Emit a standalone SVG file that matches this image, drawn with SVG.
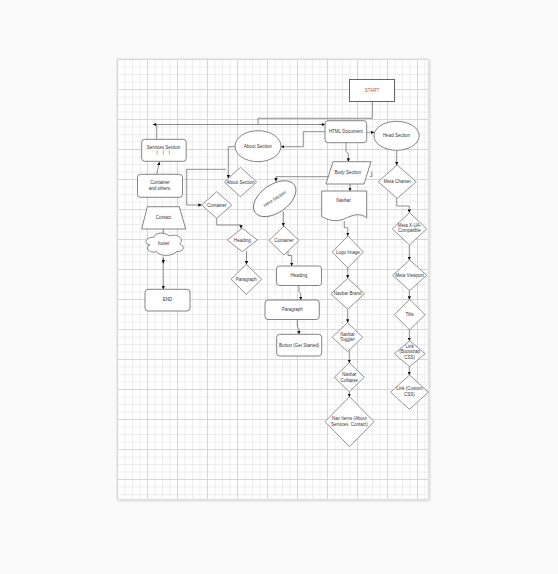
<svg xmlns="http://www.w3.org/2000/svg" width="558" height="574" viewBox="0 0 558 574">
<defs>
<pattern id="grid" patternUnits="userSpaceOnUse" x="117" y="59" width="30" height="30">
<path d="M8,0V30M15.5,0V30M23,0V30M0,8H30M0,15.5H30M0,23H30" stroke="#ededed" stroke-width="1" fill="none"/>
<path d="M0.5,0V30M0,0.5H30" stroke="#d6d6d6" stroke-width="1" fill="none"/>
</pattern>
<filter id="shadow" x="-5%" y="-5%" width="110%" height="110%">
<feGaussianBlur in="SourceAlpha" stdDeviation="1.5"/>
<feOffset dx="1" dy="1"/>
<feComponentTransfer><feFuncA type="linear" slope="0.25"/></feComponentTransfer>
<feMerge><feMergeNode/><feMergeNode in="SourceGraphic"/></feMerge>
</filter>
<marker id="arr" viewBox="0 0 6 6" refX="6" refY="3" markerWidth="3.4" markerHeight="3.4" markerUnits="userSpaceOnUse" orient="auto">
<path d="M0,0L6,3L0,6Z" fill="#111"/>
</marker>
</defs>
<style>
.s{fill:#fff;stroke:#666;stroke-width:0.8}
.d{fill:#fff;stroke:#777;stroke-width:0.8}
.t{font-family:"Liberation Sans",Arial,sans-serif;font-size:4.5px;fill:#333;text-anchor:middle}
.c{fill:none;stroke:#444;stroke-width:0.6}
.g{fill:none;stroke:#999;stroke-width:1.1}
</style>
<rect x="0" y="0" width="558" height="574" fill="#fafafa"/>
<rect x="117" y="59" width="311" height="440" fill="#fff" stroke="#e2e2e2" stroke-width="0.6" filter="url(#shadow)"/>
<rect x="117" y="59" width="311" height="440" fill="url(#grid)"/>

<g id="connectors">
<path class="c" d="M372.3,101.7V118.3H258V124.5"/>
<path class="c" d="M325,124.5H152.8" marker-end="url(#arr)"/>
<path class="c" d="M319,124.5H325" marker-end="url(#arr)"/>
<path class="c" d="M156.7,139.3V124.5"/>
<path class="c" d="M325,131.7H303.3V146.7H280.9" marker-end="url(#arr)"/>
<path class="c" d="M235,146.7H228.3V178.4" marker-end="url(#arr)"/>
<path class="c" d="M226,169.3H186.7V205H201.7" marker-end="url(#arr)"/>
<path class="c" d="M216.7,218.3V225H241V228.6" marker-end="url(#arr)"/>
<path class="c" d="M246.5,251V264.5" marker-end="url(#arr)"/>
<path class="c" d="M330,176.7H276V181.5" marker-end="url(#arr)"/>
<path class="c" d="M283.3,211.5V226.3" marker-end="url(#arr)"/>
<path class="c" d="M288,251.3V255.5H291.7V266" marker-end="url(#arr)"/>
<path class="c" d="M299,285.5V291.7L300.7,293.3V300" marker-end="url(#arr)"/>
<path class="c" d="M297.3,319.5V327L299,328.5V334.3" marker-end="url(#arr)"/>
<path class="c" d="M366.7,132.3H374.2" marker-end="url(#arr)"/>
<path class="c" d="M346,142.7V151.7L348.3,153.3V161.7" marker-end="url(#arr)"/>
<path class="c" d="M370,176.5H371.8V171.5"/>
<path class="c" d="M350,184V191" marker-end="url(#arr)"/>
<path class="c" d="M344.3,221V227.7H347.7V236" marker-end="url(#arr)"/>
<path class="c" d="M347.7,268V278.3" marker-end="url(#arr)"/>
<path class="c" d="M347.7,309.3V322.7" marker-end="url(#arr)"/>
<path class="c" d="M349.3,350.3V362.9" marker-end="url(#arr)"/>
<path class="c" d="M349.3,391.7V396.9" marker-end="url(#arr)"/>
<path class="c" d="M396.7,150.3V165.2" marker-end="url(#arr)"/>
<path class="c" d="M396.7,198.3V206H409.3V212.8" marker-end="url(#arr)"/>
<path class="c" d="M409.3,245V260.2" marker-end="url(#arr)"/>
<path class="c" d="M409.3,290.6V299.6" marker-end="url(#arr)"/>
<path class="c" d="M409.3,330V340.9" marker-end="url(#arr)"/>
<path class="c" d="M409.3,366.7V375.2" marker-end="url(#arr)"/>
<path class="c" d="M156.7,174.3L159.5,161.9" marker-end="url(#arr)"/>
<path class="g" d="M163.3,229V235"/>
<path class="g" d="M163.3,256.5V289.3" marker-end="url(#arr)"/>
<path class="c" d="M163.3,258V263.5" marker-end="url(#arr)"/>
</g>

<g id="start">
<rect x="349.5" y="79.5" width="45" height="22" fill="#fff" stroke="#555" stroke-width="0.9"/>
<text class="t" x="372" y="92.1" style="fill:#b5533a">START</text>
</g>
<g id="html-document">
<rect class="s" x="325" y="120.7" width="41.7" height="22" rx="3"/>
<text class="t" x="345.8" y="133.3">HTML Document</text>
</g>
<g id="head-section">
<ellipse class="s" cx="396.6" cy="135.8" rx="22.6" ry="14.5"/>
<text class="t" x="396.4" y="136.8">Head Section</text>
</g>
<g id="about-section">
<ellipse class="s" cx="258" cy="146.2" rx="23" ry="15.5"/>
<text class="t" x="257.7" y="147.6">About Section</text>
</g>
<g id="services-section">
<rect class="s" x="141.7" y="139.3" width="44.5" height="22" rx="3"/>
<text class="t" x="163.6" y="148.9">Services Section</text>
<text class="t" x="163.3" y="154.3" xml:space="preserve">|    |    |</text>
</g>
<g id="container-and-others">
<rect class="s" x="137.5" y="174.3" width="45" height="23" rx="3"/>
<text class="t" x="160" y="184.1">Container</text>
<text class="t" x="160" y="190">and others.</text>
</g>
<g id="contact">
<polygon class="s" points="147.3,206.7 179.3,206.7 185.7,229 141.7,229"/>
<text class="t" x="163.5" y="218.9">Contact</text>
</g>
<g id="footer">
<path class="s" d="M153.7,237.2C145.4,237.2 143.3,243.7 150,245C143.3,247.9 150.8,254.1 156.2,251.5C160,256.7 172.5,256.7 176.7,251.5C185,251.5 185,246.3 179.8,243.7C185,238.5 176.7,233.3 169.4,235.9C164.2,232 155.8,232 153.7,237.2Z"/>
<text class="t" x="163.8" y="244.9">footer</text>
</g>
<g id="end">
<rect class="s" x="145" y="289.3" width="45" height="21.7" rx="3"/>
<text class="t" x="167.5" y="301.1">END</text>
</g>
<g id="about-section-diamond">
<polygon class="d" points="240.5,167.3 256.7,182 240.5,196.7 224.3,182"/>
<text class="t" x="240.5" y="183.6">About Section</text>
</g>
<g id="container-left">
<polygon class="d" points="216.7,191.7 231.7,205 216.7,218.3 201.7,205"/>
<text class="t" x="216.7" y="206.6">Container</text>
</g>
<g id="heading-diamond">
<polygon class="d" points="242.3,228.3 257.3,240 242.3,251.7 227.3,240"/>
<text class="t" x="242.3" y="241.6">Heading</text>
</g>
<g id="paragraph-diamond">
<polygon class="d" points="246.3,264.3 261.6,279.3 246.3,294.3 231,279.3"/>
<text class="t" x="246.3" y="280.9">Paragraph</text>
</g>
<g id="hero-section">
<ellipse class="s" cx="274.7" cy="198.7" rx="24" ry="14" transform="rotate(-35 274.7 198.7)"/>
<text class="t" x="274.7" y="200.3" transform="rotate(-33 274.7 198.7)">Hero Section</text>
</g>
<g id="container-mid">
<polygon class="d" points="284,226 299,240.5 284,255 269,240.5"/>
<text class="t" x="284" y="242.1">Container</text>
</g>
<g id="heading-rect">
<rect class="s" x="276.5" y="266" width="45" height="19.5" rx="3"/>
<text class="t" x="299" y="277.3">Heading</text>
</g>
<g id="paragraph-rect">
<rect class="s" x="265" y="300" width="54.3" height="19.5" rx="3"/>
<text class="t" x="292.2" y="311.3">Paragraph</text>
</g>
<g id="button">
<rect class="s" x="276.7" y="334.3" width="45" height="21.7" rx="3"/>
<text class="t" x="299.2" y="346.7">Button (Get Started)</text>
</g>
<g id="body-section">
<polygon class="s" points="333,161.7 371,161.7 364,184 326,184"/>
<text class="t" x="347.8" y="174">Body Section</text>
</g>
<g id="navbar">
<path class="s" d="M321.7,191H366.7V218C361,213 354,214 344,219C334,223 327,219 321.7,216.7Z"/>
<text class="t" x="343.6" y="202.4">Navbar</text>
</g>
<g id="logo-image">
<polygon class="d" points="347.8,236 363.3,252 347.8,268 332.3,252"/>
<text class="t" x="347.8" y="253.6">Logo Image</text>
</g>
<g id="navbar-brand">
<polygon class="d" points="347.7,278.3 364.4,293.8 347.7,309.3 331,293.8"/>
<text class="t" x="347.7" y="295.4">Navbar Brand</text>
</g>
<g id="navbar-toggler">
<polygon class="d" points="347.5,322.7 362.7,337.2 347.5,351.7 332.3,337.2"/>
<text class="t" x="347.5" y="335.9">Navbar</text>
<text class="t" x="347.5" y="341.2">Toggler</text>
</g>
<g id="navbar-collapse">
<polygon class="d" points="349.3,362.7 364.3,377.2 349.3,391.7 334.3,377.2"/>
<text class="t" x="349.3" y="376.4">Navbar</text>
<text class="t" x="349.3" y="382.2">Collapse</text>
</g>
<g id="nav-items">
<polygon class="d" points="349.5,396.7 374,421.7 349.5,446.7 325,421.7"/>
<text class="t" x="349.5" y="420.3">Nav Items (About</text>
<text class="t" x="349.5" y="425.8">Services, Contact)</text>
</g>
<g id="meta-charset">
<polygon class="d" points="397.2,165 416.2,181.7 397.2,198.4 378.2,181.7"/>
<text class="t" x="397.2" y="183.3">Meta Charset</text>
</g>
<g id="meta-x-ua">
<polygon class="d" points="409.5,212.6 426.7,228.8 409.5,245 392.3,228.8"/>
<text class="t" x="409.5" y="226.6">Meta X-UA-</text>
<text class="t" x="409.5" y="232.3">Compatible</text>
</g>
<g id="meta-viewport">
<polygon class="d" points="409.7,260 426.7,275.3 409.7,290.6 392.7,275.3"/>
<text class="t" x="409.7" y="276.9">Meta Viewport</text>
</g>
<g id="title">
<polygon class="d" points="409.7,299.4 425,314.7 409.7,330 394.4,314.7"/>
<text class="t" x="409.7" y="316.3">Title</text>
</g>
<g id="link-bootstrap">
<polygon class="d" points="409.7,340.7 425,353.7 409.7,366.7 394.4,353.7"/>
<text class="t" x="409.7" y="347.6">Link</text>
<text class="t" x="409.7" y="353.3">(Bootstrap</text>
<text class="t" x="409.7" y="358.9">CSS)</text>
</g>
<g id="link-custom">
<polygon class="d" points="409.5,375 428.3,392.2 409.5,409.4 390.7,392.2"/>
<text class="t" x="409.5" y="389.9">Link (Custom</text>
<text class="t" x="409.5" y="395.6">CSS)</text>
</g>
</svg>
